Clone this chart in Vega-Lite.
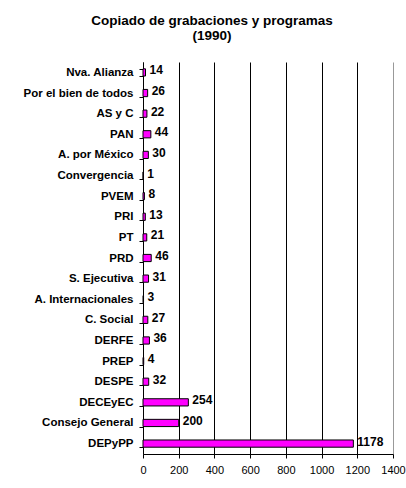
{
  "$schema": "https://vega.github.io/schema/vega-lite/v6.json",
  "width": 250,
  "height": 392,
  "autosize": {"type": "none"},
  "padding": {"left": 143, "top": 62, "right": 13, "bottom": 34},
  "background": "white",
  "title": {
    "text": ["Copiado de grabaciones y programas", "(1990)"],
    "font": "Liberation Sans",
    "fontSize": 13.5,
    "fontWeight": "bold",
    "color": "black",
    "anchor": "middle",
    "dx": -56,
    "offset": 14,
    "lineHeight": 15
  },
  "data": {
    "values": [
      {"area": "Nva. Alianza", "copias": 14},
      {"area": "Por el bien de todos", "copias": 26},
      {"area": "AS y C", "copias": 22},
      {"area": "PAN", "copias": 44},
      {"area": "A. por México", "copias": 30},
      {"area": "Convergencia", "copias": 1},
      {"area": "PVEM", "copias": 8},
      {"area": "PRI", "copias": 13},
      {"area": "PT", "copias": 21},
      {"area": "PRD", "copias": 46},
      {"area": "S. Ejecutiva", "copias": 31},
      {"area": "A. Internacionales", "copias": 3},
      {"area": "C. Social", "copias": 27},
      {"area": "DERFE", "copias": 36},
      {"area": "PREP", "copias": 4},
      {"area": "DESPE", "copias": 32},
      {"area": "DECEyEC", "copias": 254},
      {"area": "Consejo General", "copias": 200},
      {"area": "DEPyPP", "copias": 1178}
    ]
  },
  "encoding": {
    "y": {
      "field": "area",
      "type": "nominal",
      "sort": null,
      "scale": {"paddingInner": 0.65, "paddingOuter": 0.33},
      "axis": {
        "title": null,
        "labelFont": "Liberation Sans",
        "labelFontSize": 11.5,
        "labelFontWeight": "bold",
        "labelColor": "black",
        "labelPadding": 6,
        "labelOverlap": false,
        "labelBound": false,
        "domainColor": "black",
        "tickColor": "black",
        "tickSize": 4,
        "tickBand": "extent",
        "grid": false
      }
    },
    "x": {
      "field": "copias",
      "type": "quantitative",
      "scale": {"domain": [0, 1400], "nice": false},
      "axis": {
        "title": null,
        "values": [0, 200, 400, 600, 800, 1000, 1200, 1400],
        "format": "d",
        "labelFont": "Liberation Sans",
        "labelFontSize": 11,
        "labelColor": "black",
        "labelPadding": 6,
        "labelOverlap": false,
        "labelFlush": false,
        "domainColor": "black",
        "tickColor": "black",
        "tickSize": 4,
        "grid": true,
        "gridColor": {"condition": {"test": "datum.value == 1400", "value": "#999999"}, "value": "black"},
        "gridOpacity": 1,
        "gridWidth": 1
      }
    }
  },
  "layer": [
    {
      "mark": {"type": "bar", "color": "#FF00FF", "stroke": "black", "strokeWidth": 1}
    },
    {
      "mark": {
        "type": "text",
        "align": "left",
        "dx": 4,
        "dy": -2,
        "font": "Liberation Sans",
        "fontSize": 12,
        "fontWeight": "bold",
        "color": "black"
      },
      "encoding": {"text": {"field": "copias", "type": "quantitative"}}
    }
  ],
  "config": {"view": {"stroke": null}}
}
